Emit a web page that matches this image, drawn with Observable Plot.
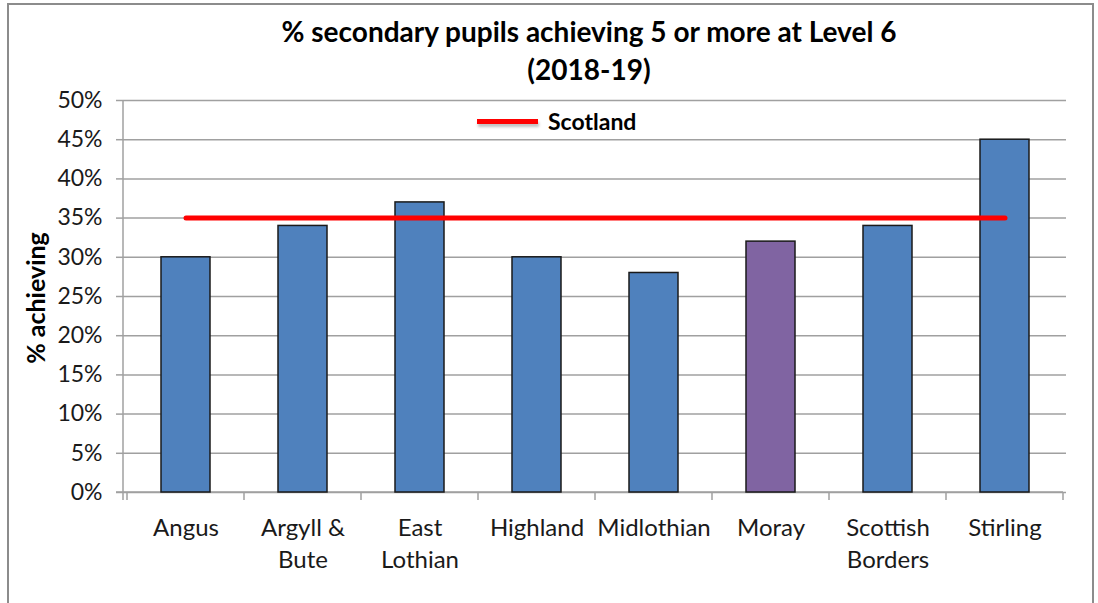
<!DOCTYPE html>
<html><head><meta charset="utf-8">
<script src="https://cdn.jsdelivr.net/npm/d3@7"></script>
<script src="https://cdn.jsdelivr.net/npm/@observablehq/plot@0.6"></script>
<style>
body{margin:0;background:#fff;}
#wrap{position:relative;width:1098px;height:603px;overflow:hidden;font-family:Lato,"Open Sans",sans-serif;color:#000;}
#frame{position:absolute;left:7px;top:3px;width:1087px;height:660px;border:2px solid #8c8c8c;box-sizing:border-box;}
#title{position:absolute;left:239px;width:700px;top:12px;text-align:center;font-weight:bold;font-size:28px;line-height:38px;color:#000;}
#ylab{position:absolute;left:35px;top:298px;transform:translate(-50%,-50%) rotate(-90deg);font-weight:bold;font-size:25px;white-space:nowrap;}
#legend{position:absolute;left:477px;top:107px;display:flex;align-items:center;height:28px;}
#legend .sw{width:61px;height:5px;background:#ff0000;margin-right:10px;box-shadow:1px 3px 3px rgba(0,0,0,0.25);}
#legend .lb{font-weight:bold;font-size:23px;}
#chart{position:absolute;left:0;top:0;}
</style></head>
<body>
<div id="wrap">
  <div id="frame"></div>
  <div id="chart"></div>
  <div id="title">% secondary pupils achieving 5 or more at Level 6<br>(2018-19)</div>
  <div id="ylab">% achieving</div>
  <div id="legend"><div class="sw"></div><div class="lb">Scotland</div></div>
</div>
<script>
const categories = ["Angus","Argyll & Bute","East Lothian","Highland","Midlothian","Moray","Scottish Borders","Stirling"];
const tickLabels = ["Angus","Argyll &\nBute","East\nLothian","Highland","Midlothian","Moray","Scottish\nBorders","Stirling"];
const values = [30,34,37,30,28,32,34,45];
const barColors = ["#4F81BD","#4F81BD","#4F81BD","#4F81BD","#4F81BD","#8064A2","#4F81BD","#4F81BD"];
const scotlandValue = 35;
const yTicks = [0,5,10,15,20,25,30,35,40,45,50];

const bars = categories.map((c,i)=>({cat:c, value:values[i], color:barColors[i]}));
const scotland = categories.map(c=>({cat:c, value:scotlandValue}));
const labelOf = new Map(categories.map((c,i)=>[c, tickLabels[i]]));

function frameLines(index, scales, values, dims) {
  const g = d3.create("svg:g");
  const x = scales.x;
  const step = x.step(), bw = x.bandwidth();
  const left = dims.marginLeft, bottom = dims.height - dims.marginBottom;
  const bounds = categories.map(c => x(c) - (step - bw)/2);
  bounds.push(x(categories[categories.length-1]) + bw + (step - bw)/2);
  g.append("line").attr("x1", left).attr("x2", left).attr("y1", dims.marginTop).attr("y2", bottom + 8)
    .attr("stroke", "#a0a0a0").attr("stroke-width", 1.5);
  g.append("line").attr("x1", left - 7).attr("x2", bounds[bounds.length-1]).attr("y1", bottom).attr("y2", bottom)
    .attr("stroke", "#a0a0a0").attr("stroke-width", 1.5);
  for (const b of bounds) {
    g.append("line").attr("x1", b).attr("x2", b).attr("y1", bottom).attr("y2", bottom + 8)
      .attr("stroke", "#a0a0a0").attr("stroke-width", 1.5);
  }
  return g.node();
}

const chart = Plot.plot({
  width: 1098,
  height: 603,
  marginTop: 100,
  marginBottom: 111,
  marginLeft: 123,
  marginRight: 32,
  style: {fontFamily: "Lato, 'Open Sans', sans-serif", background: "transparent", color: "#000"},
  x: {domain: categories, paddingInner: 0.585, paddingOuter: 0.2925, label: null},
  y: {domain: [0, 50], label: null},
  marks: [
    Plot.gridY(yTicks, {stroke: "#a0a0a0", strokeOpacity: 1, strokeWidth: 1.5}),
    Plot.axisY(yTicks, {tickSize: 7, tickPadding: 14, stroke: "#a0a0a0", strokeWidth: 1.5, fontSize: 23, fill: "#1a1a1a", tickFormat: d => d + "%", label: null}),
    Plot.axisX({tickSize: 0, tickPadding: 21, fontSize: 24, fill: "#1a1a1a", lineHeight: 1.34, tickFormat: d => labelOf.get(d), label: null}),
    frameLines,
    Plot.barY(bars, {x: "cat", y: "value", fill: "color", stroke: "#1a1a1a", strokeWidth: 1.5}),
    Plot.lineY(scotland, {x: "cat", y: "value", stroke: "#ff0000", strokeWidth: 5, strokeLinecap: "round"})
  ]
});
document.getElementById("chart").appendChild(chart);
</script>
</body></html>
